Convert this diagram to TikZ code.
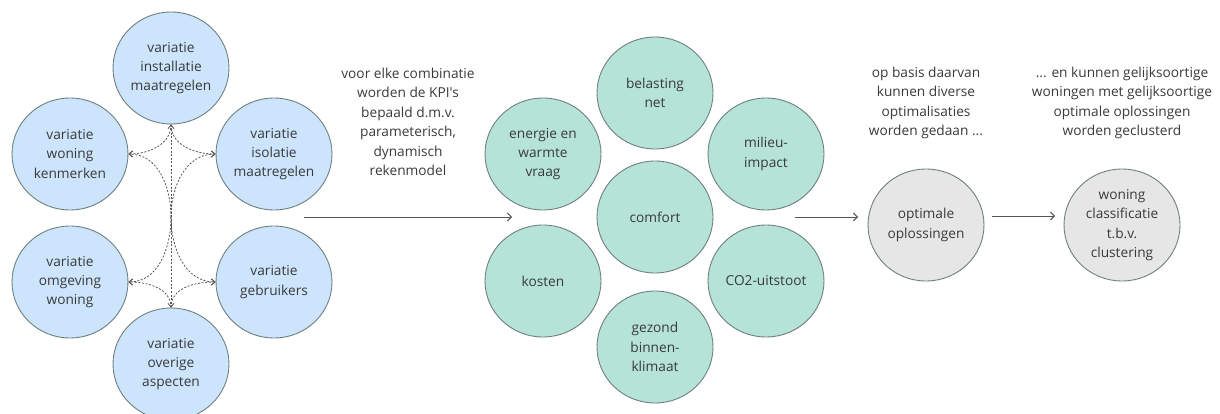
\documentclass[tikz,border=0pt]{standalone}
\usepackage{fontspec}
\setmainfont{Open Sans}[Ligatures=TeXOff]
\usetikzlibrary{shapes.geometric,arrows.meta}
\definecolor{ink}{HTML}{3A3A3A}
\definecolor{bluefill}{HTML}{CCE5FD}
\definecolor{tealfill}{HTML}{B5E3D8}
\definecolor{greyfill}{HTML}{E6E6E6}
\definecolor{rim}{HTML}{6F7F80}
\definecolor{wire}{HTML}{555555}
\tikzset{
  bubble/.style={ellipse, draw=rim, line width=0.9pt, minimum width=116pt,
    minimum height=112pt, inner sep=0pt, align=center, text=ink,
    font=\fontsize{13.7}{19.3}\selectfont},
  variant/.style={bubble, fill=bluefill},
  kpi/.style={bubble, fill=tealfill},
  result/.style={bubble, fill=greyfill},
  note/.style={align=center, text=ink, font=\fontsize{13.7}{19.5}\selectfont},
  link/.style={draw=wire, line width=0.8pt, dash pattern=on 2pt off 1.6pt,
    -{Straight Barb[length=3.5pt,width=6pt]}},
  flow/.style={draw=wire, line width=0.9pt,
    -{Straight Barb[length=4pt,width=8pt]}}
}
\begin{document}
\begin{tikzpicture}[x=1pt,y=-1pt]
\useasboundingbox (0,0) rectangle (1220,414);

% varianten
\node[variant] (inst) at (171,68)  {variatie\\installatie\\maatregelen};
\node[variant] (kenm) at (70,154)  {variatie\\woning\\kenmerken};
\node[variant] (isol) at (274,154) {variatie\\isolatie\\maatregelen};
\node[variant] (omg)  at (70,282)  {variatie\\omgeving\\woning};
\node[variant] (gebr) at (274,282) {variatie\\gebruikers};
\node[variant] (over) at (171,364) {variatie\\overige\\aspecten};

% onderlinge combinaties
\coordinate (hub) at (171,217);
\draw[link, {Straight Barb[length=3.5pt,width=6pt]}-{Straight Barb[length=3.5pt,width=6pt]}] (inst.south) -- (over.north);
\draw[link] (hub) to[out=90,in=0] (kenm.east);
\draw[link] (hub) to[out=90,in=180] (isol.west);
\draw[link] (hub) to[out=-90,in=0] (omg.east);
\draw[link] (hub) to[out=-90,in=180] (gebr.west);
\draw[link] (inst.south) to[out=-90,in=0] (kenm.east);
\draw[link] (inst.south) to[out=-90,in=180] (isol.west);
\draw[link] (over.north) to[out=90,in=0] (omg.east);
\draw[link] (over.north) to[out=90,in=180] (gebr.west);

% KPI's
\node[kpi] (ener) at (543,154) {energie en\\warmte\\vraag};
\node[kpi] (bel)  at (655,93)  {belasting\\net};
\node[kpi] (mil)  at (766,154) {milieu-\\impact};
\node[kpi] (comf) at (655,217) {comfort};
\node[kpi] (kost) at (543,281) {kosten};
\node[kpi] (co)   at (766,281) {CO2-uitstoot};
\node[kpi] (gez)  at (655,347) {gezond\\binnen-\\klimaat};

% resultaten
\node[result] (opt) at (926,225)  {optimale\\oplossingen};
\node[result] (cls) at (1122,225) {woning\\classificatie\\t.b.v.\\clustering};

% toelichtingen
\node[note] (t1) at (408,122) {voor elke combinatie\\worden de KPI's\\bepaald d.m.v.\\parameterisch,\\dynamisch\\rekenmodel};
\node[note] (t2) at (926,103) {op basis daarvan\\kunnen diverse\\optimalisaties\\worden gedaan ...};
\node[note] (t3) at (1122,103) {... en kunnen gelijksoortige\\woningen met gelijksoortige\\optimale oplossingen\\worden geclusterd};

% stroom
\coordinate (a1) at (304,217);
\coordinate (a2) at (512,217);
\coordinate (b1) at (795,217);
\coordinate (b2) at (858,217);
\coordinate (c1) at (992,216);
\coordinate (c2) at (1055,216);
\draw[flow] (a1) -- (a2);
\draw[flow] (b1) -- (b2);
\draw[flow] (c1) -- (c2);
\end{tikzpicture}
\end{document}
